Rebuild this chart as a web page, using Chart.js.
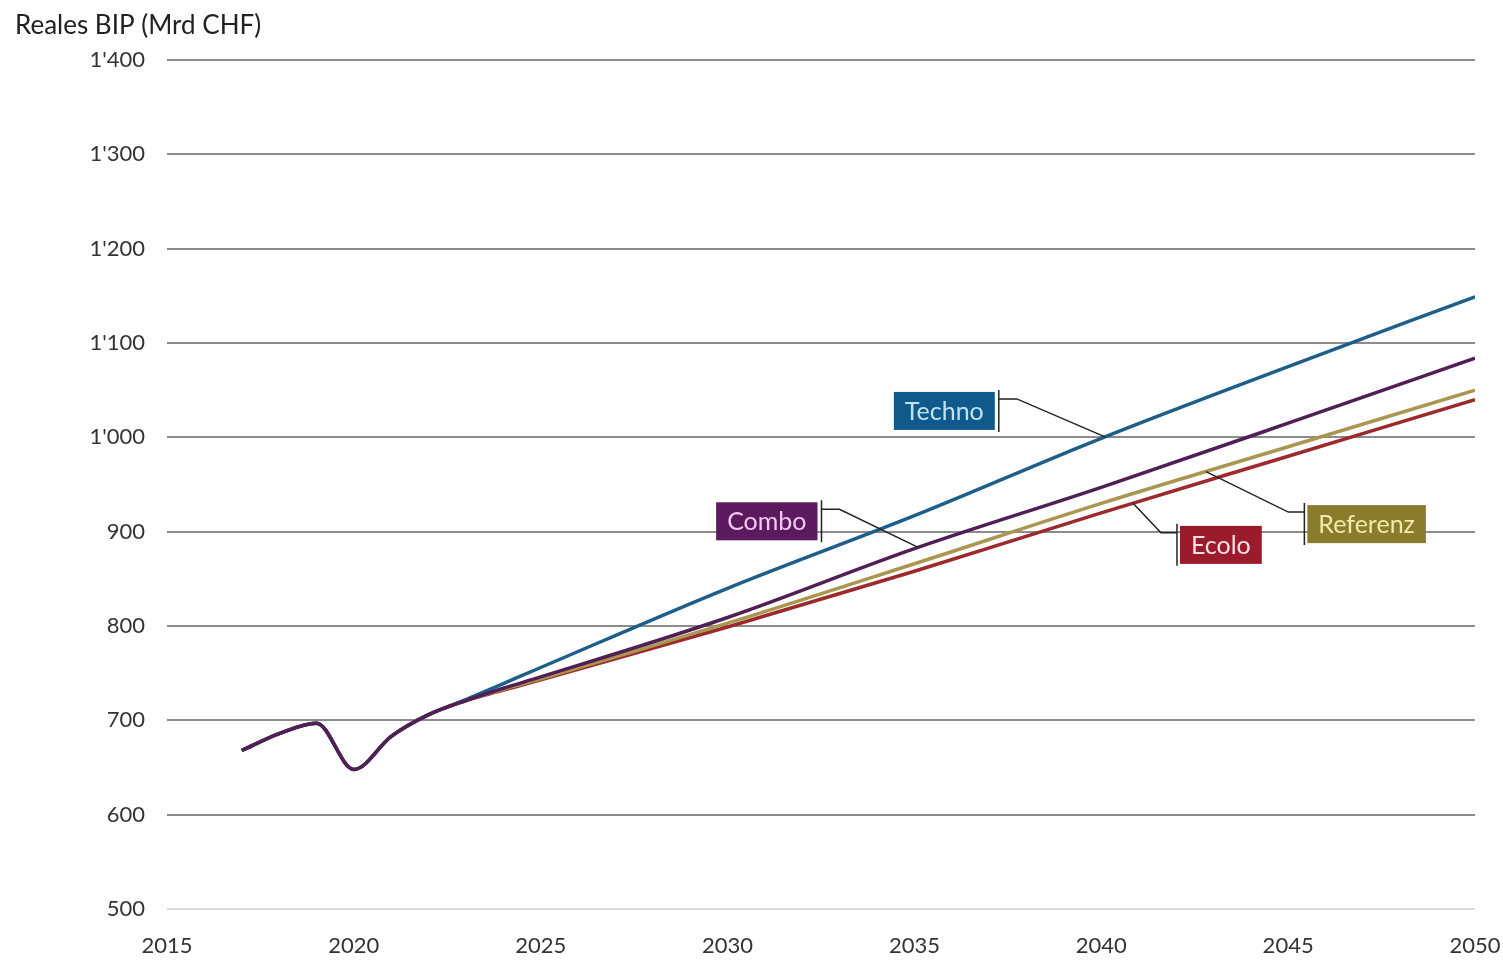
<!DOCTYPE html>
<html>
<head>
<meta charset="utf-8">
<script src="https://cdn.jsdelivr.net/npm/chart.js@4.4.1/dist/chart.umd.min.js"></script>
<style>
  html, body { margin: 0; padding: 0; background: #fff; }
</style>
</head>
<body>
<canvas id="bipChart" width="1503" height="961"></canvas>
<script>
// Reales BIP nach Szenario (Mrd CHF)
const years = [2017, 2018, 2019, 2020, 2021, 2022, 2023, 2024, 2025, 2030, 2035, 2040, 2045, 2050];
const techno   = [668, 686, 697, 648, 683, 706, 722, 739, 756, 840, 917, 999, 1075, 1149];
const combo    = [668, 686, 697, 648, 683, 706, 721, 734, 746, 809, 882, 947, 1015, 1084];
const referenz = [668, 686, 697, 648, 683, 706, 721, 733, 744, 803, 866, 930, 990, 1050];
const ecolo    = [668, 686, 697, 648, 683, 706, 721, 732, 743, 799, 858, 920, 980, 1040];

const seriesNames = ['Techno', 'Combo', 'Referenz', 'Ecolo'];
const yTicks = [500, 600, 700, 800, 900, 1000, 1100, 1200, 1300, 1400];
const xTicks = [2015, 2020, 2025, 2030, 2035, 2040, 2045, 2050];

const lineColors = ['#1d5f8a', '#4f1f55', '#ab9650', '#9c2a2c'];
const boxColors  = ['#0f5a8a', '#5c1a5e', '#8a7c2c', '#9a1b2c'];
const boxText    = ['#bfe3f7', '#f2c8f0', '#f3eaa8', '#fde0e0'];

// callouts: series, year where the leader meets the line, box centre (data units), side of the box the leader leaves from
const callouts = [
    { s: 0, at: 2040.1, bx: 2035.8, by: 1028, side: 'right' },
    { s: 1, at: 2035.1, bx: 2031.05, by: 911, side: 'right' },
    { s: 3, at: 2040.85, bx: 2043.2, by: 886, side: 'left' },
    { s: 2, at: 2042.8, bx: 2047.1, by: 908, side: 'left' }
];

const FONT = 'Lato, "Open Sans", sans-serif';

function fmt(v) {
    return v >= 1000 ? Math.floor(v / 1000) + "'" + String(v % 1000).padStart(3, '0') : String(v);
}

function toPoints(arr) {
    return years.map((y, i) => ({ x: y, y: arr[i] }));
}

// value of a series at a given year, linear between the listed points
function valueAt(arr, yr) {
    for (let i = 0; i < years.length - 1; i++) {
        if (yr >= years[i] && yr <= years[i + 1]) {
            const f = (yr - years[i]) / (years[i + 1] - years[i]);
            return arr[i] + f * (arr[i + 1] - arr[i]);
        }
    }
    return arr[arr.length - 1];
}

const titlePlugin = {
    id: 'titleText',
    afterDraw(chart) {
        const ctx = chart.ctx;
        ctx.save();
        ctx.font = '26px ' + FONT;
        ctx.fillStyle = '#222';
        ctx.textBaseline = 'middle';
        ctx.textAlign = 'left';
        ctx.fillText('Reales BIP (Mrd CHF)', 15, 26);
        ctx.restore();
    }
};

const calloutPlugin = {
    id: 'callouts',
    afterDatasetsDraw(chart) {
        const ctx = chart.ctx;
        const xs = chart.scales.x, ys = chart.scales.y;
        const all = [techno, combo, referenz, ecolo];
        ctx.save();
        ctx.font = '25px ' + FONT;
        callouts.forEach(c => {
            const text = seriesNames[c.s];
            const w = ctx.measureText(text).width + 22;
            const h = 38;
            const cx = xs.getPixelForValue(c.bx), cy = ys.getPixelForValue(c.by);
            const left = cx - w / 2, top = cy - h / 2;
            ctx.fillStyle = boxColors[c.s];
            ctx.fillRect(left, top, w, h);
            ctx.fillStyle = boxText[c.s];
            ctx.textAlign = 'center';
            ctx.textBaseline = 'middle';
            ctx.fillText(text, cx, cy + 1);

            // leader
            const barX = c.side === 'right' ? left + w + 4 : left - 3;
            const ax = xs.getPixelForValue(c.at);
            const ay = ys.getPixelForValue(valueAt(all[c.s], c.at));
            const ly = top + 7;
            const kx = c.side === 'right' ? barX + 18 : barX - 16;
            ctx.strokeStyle = '#222';
            ctx.lineWidth = 1.5;
            ctx.beginPath();
            ctx.moveTo(barX, top - 2);
            ctx.lineTo(barX, top + h + 2);
            ctx.moveTo(barX, ly);
            ctx.lineTo(kx, ly);
            ctx.lineTo(ax, ay);
            ctx.stroke();
        });
        ctx.restore();
    }
};

// drawing order: Ecolo first, then Referenz, Techno, Combo on top (history shows in Combo's purple)
const drawOrder = [2, 0, 3, 4];
const datasets = [techno, combo, referenz, ecolo].map((arr, i) => ({
    label: seriesNames[i],
    data: toPoints(arr),
    borderColor: lineColors[i],
    borderWidth: 3.5,
    pointRadius: 0,
    fill: false,
    cubicInterpolationMode: 'monotone',
    order: drawOrder[i]
}));

new Chart(document.getElementById('bipChart'), {
    type: 'line',
    data: { datasets: datasets },
    options: {
        responsive: false,
        animation: false,
        devicePixelRatio: 1,
        layout: { padding: { top: 60, right: 28, left: 0, bottom: 0 } },
        plugins: { legend: { display: false }, tooltip: { enabled: false } },
        scales: {
            x: {
                type: 'linear',
                min: 2015,
                max: 2050,
                afterBuildTicks: axis => { axis.ticks = xTicks.map(v => ({ value: v })); },
                ticks: {
                    color: '#333',
                    font: { family: FONT, size: 22 },
                    padding: 24,
                    maxRotation: 0,
                    callback: v => String(v)
                },
                grid: { display: false, drawTicks: false },
                border: { display: false },
                afterFit: axis => {
                    axis.height = 52;
                    axis.paddingLeft = 0;
                    axis.paddingRight = 0;
                }
            },
            y: {
                min: 500,
                max: 1400,
                afterBuildTicks: axis => { axis.ticks = yTicks.map(v => ({ value: v })); },
                ticks: {
                    color: '#333',
                    font: { family: FONT, size: 22 },
                    padding: 22,
                    callback: v => fmt(v)
                },
                grid: {
                    drawTicks: false,
                    lineWidth: 2,
                    color: ctx => ctx.tick && ctx.tick.value === 500 ? '#dcdcdc' : '#8c8c8c'
                },
                border: { display: false },
                afterFit: axis => { axis.width = 167; }
            }
        }
    },
    plugins: [titlePlugin, calloutPlugin]
});
</script>
</body>
</html>
